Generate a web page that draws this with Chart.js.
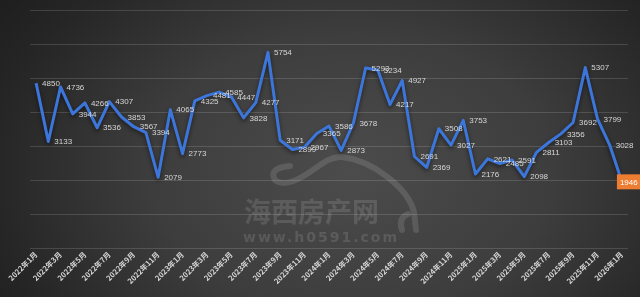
<!DOCTYPE html>
<html>
<head>
<meta charset="utf-8">
<script src="https://cdn.jsdelivr.net/npm/chart.js@4/dist/chart.umd.min.js"></script>
<style>
  html, body { margin: 0; padding: 0; }
  body {
    width: 640px; height: 297px; overflow: hidden;
    background: radial-gradient(ellipse 70% 105% at 55% 58%, #4c4c4c 0%, #3d3d3d 45%, #262626 80%, #1c1c1c 100%);
  }
  #wrap { width: 640px; height: 297px; }
</style>
</head>
<body>
<div id="wrap"><canvas id="chart" width="640" height="297"></canvas></div>
<script>
// monthly categories, 2022-01 .. 2026-01
const months = [
  '2022年1月', '2022年2月', '2022年3月', '2022年4月', '2022年5月', '2022年6月',
  '2022年7月', '2022年8月', '2022年9月', '2022年10月', '2022年11月', '2022年12月',
  '2023年1月', '2023年2月', '2023年3月', '2023年4月', '2023年5月', '2023年6月',
  '2023年7月', '2023年8月', '2023年9月', '2023年10月', '2023年11月', '2023年12月',
  '2024年1月', '2024年2月', '2024年3月', '2024年4月', '2024年5月', '2024年6月',
  '2024年7月', '2024年8月', '2024年9月', '2024年10月', '2024年11月', '2024年12月',
  '2025年1月', '2025年2月', '2025年3月', '2025年4月', '2025年5月', '2025年6月',
  '2025年7月', '2025年8月', '2025年9月', '2025年10月', '2025年11月', '2025年12月',
  '2026年1月'
];

// values
const volumes = [
  4850, 3133, 4736, 3944, 4266, 3536, 4307, 3853, 3567, 3394, 2079, 4065,
  2773, 4325, 4481, 4585, 4447, 3828, 4277, 5754, 3171, 2899, 2967, 3365,
  3586, 2873, 3678, 5293, 5234, 4217, 4927, 2691, 2369, 3508, 3027, 3753,
  2176, 2621, 2485, 2591, 2098, 2811, 3103, 3356, 3692, 5307, 3799, 3028,
  1946
];

// y axis runs 0..7000 with a gridline every 1000 (no tick labels shown)
const yTicks = [0, 1000, 2000, 3000, 4000, 5000, 6000, 7000];

const LINE_BLUE = '#3c76da';
const LABEL_GRAY = '#d6d6d6';

// faint site watermark behind the line
const watermark = {
  id: 'watermark',
  beforeDatasetsDraw(chart) {
    const ctx = chart.ctx;
    ctx.save();
    ctx.strokeStyle = 'rgba(255,255,255,0.12)';
    ctx.fillStyle = 'rgba(255,255,255,0.12)';
    ctx.lineWidth = 6;
    ctx.lineCap = 'round';
    ctx.beginPath();
    ctx.moveTo(290, 166);
    ctx.quadraticCurveTo(268, 168, 275, 180);
    ctx.quadraticCurveTo(284, 187, 302, 177);
    ctx.bezierCurveTo(318, 168, 328, 156, 342, 157);
    ctx.bezierCurveTo(372, 160, 408, 188, 414, 212);
    ctx.lineTo(416, 230);
    ctx.stroke();
    ctx.beginPath();
    ctx.moveTo(402, 230);
    ctx.quadraticCurveTo(398, 218, 408, 214);
    ctx.stroke();

    ctx.font = 'bold 27px "Noto Sans CJK SC"';
    ctx.textBaseline = 'middle';
    ctx.textAlign = 'left';
    ctx.fillText('海西房产网', 244, 212);
    ctx.font = 'bold 14px "DejaVu Sans"';
    ctx.letterSpacing = '2px';
    ctx.fillText('www.h0591.com', 243, 238);
    ctx.restore();
  }
};

// soft shadow under the line
const lineShadow = {
  id: 'lineShadow',
  beforeDatasetDraw(chart) {
    const ctx = chart.ctx;
    ctx.save();
    ctx.shadowColor = 'rgba(0,0,0,0.55)';
    ctx.shadowBlur = 4;
    ctx.shadowOffsetY = 2;
  },
  afterDatasetDraw(chart) {
    chart.ctx.restore();
  }
};

// value labels to the right of each point, last one in an orange box
const valueLabels = {
  id: 'valueLabels',
  afterDatasetsDraw(chart) {
    const ctx = chart.ctx;
    const meta = chart.getDatasetMeta(0);
    const data = chart.data.datasets[0].data;
    ctx.save();
    ctx.font = '8px "Liberation Sans"';
    ctx.textBaseline = 'middle';
    meta.data.forEach((pt, i) => {
      const txt = String(data[i]);
      if (i === data.length - 1) {
        const w = ctx.measureText(txt).width + 6;
        ctx.fillStyle = '#ed7d31';
        ctx.fillRect(pt.x - 5, pt.y - 7.5, w + 2, 15);
        ctx.fillStyle = '#ffffff';
        ctx.textAlign = 'left';
        ctx.fillText(txt, pt.x - 2, pt.y + 0.5);
      } else {
        ctx.fillStyle = LABEL_GRAY;
        ctx.textAlign = 'left';
        ctx.fillText(txt, pt.x + 6, pt.y + 0.5);
      }
    });
    ctx.restore();
  }
};

new Chart(document.getElementById('chart'), {
  type: 'line',
  data: {
    labels: months,
    datasets: [{
      data: volumes,
      borderColor: LINE_BLUE,
      borderWidth: 3,
      tension: 0,
      pointRadius: 0,
      fill: false,
      borderJoinStyle: 'round'
    }]
  },
  options: {
    responsive: false,
    animation: false,
    layout: { padding: { left: 30, right: 12, top: 10, bottom: 12 } },
    plugins: {
      legend: { display: false },
      tooltip: { enabled: false }
    },
    scales: {
      x: {
        offset: true,
        grid: { display: false, drawTicks: false },
        border: { display: false },
        ticks: {
          autoSkip: false,
          minRotation: 45,
          maxRotation: 45,
          padding: 2,
          color: LABEL_GRAY,
          font: { size: 7.5, weight: 'bold', family: '"Noto Sans CJK SC"' },
          callback: (v, i) => (i % 2 === 0 ? months[i] : '')
        },
        afterFit: (axis) => { axis.height = 37; }
      },
      y: {
        min: yTicks[0],
        max: yTicks[yTicks.length - 1],
        afterBuildTicks: (axis) => { axis.ticks = yTicks.map(v => ({ value: v })); },
        grid: { color: 'rgba(255,255,255,0.14)', drawTicks: false },
        border: { display: false },
        ticks: { display: false }
      }
    }
  },
  plugins: [watermark, lineShadow, valueLabels]
});
</script>
</body>
</html>
